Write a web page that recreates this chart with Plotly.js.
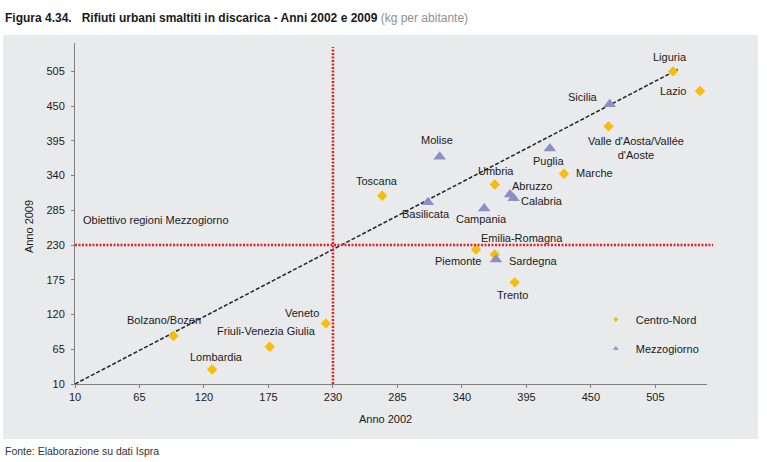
<!DOCTYPE html>
<html>
<head>
<meta charset="utf-8">
<script src="https://cdn.plot.ly/plotly-3.0.1.min.js"></script>
<style>html,body{margin:0;padding:0;background:#fff;}#chart{width:767px;height:462px;}</style>
</head>
<body>
<div id="chart"></div>
<script>
// ---- Data (kg per abitante) ----
const cnNames = ["Liguria","Lazio","Valle d'Aosta/Vallée<br>d'Aoste","Marche","Umbria","Toscana","Emilia-Romagna","Piemonte","Trento","Bolzano/Bozen","Lombardia","Friuli-Venezia Giulia","Veneto"];
const cnX2002 = [520, 543, 465, 427, 368, 272, 352, 368, 385, 94, 127, 176, 224];
const cnY2009 = [505, 474, 418, 343, 326, 308, 223, 215, 171, 86, 33, 69, 106];

const mzNames = ["Sicilia","Molise","Puglia","Abruzzo","Calabria","Basilicata","Campania","Sardegna"];
const mzX2002 = [466, 321, 415, 381, 384, 311, 359, 369];
const mzY2009 = [453, 370, 383, 310, 304, 298, 288, 207];

const trendX = [10, 524];
const trendY = [10, 508];
const targetValue = 230;

const tickValues = [10, 65, 120, 175, 230, 285, 340, 395, 450, 505];

// ---- Label offsets (pixels) ----
const cnLabelShift = [[-3,14],[-27,0],[27,-22],[31,1],[1,13],[-5,15],[46,11],[-37,-6],[-2,-13],[-9,16],[4,12],[-3,16],[-24,10]];
const mzLabelShift = [[-27,7],[-3,17],[-1,-13],[22,9],[28,-3],[-2,-12],[-3,-11],[38,-1]];

const YELLOW = '#f7bd0b';
const VIOLET = '#8b8fc6';
const FONT = 'Liberation Sans, Arial, sans-serif';

const traces = [
  {x: trendX, y: trendY, mode: 'lines', line: {color: '#222', width: 1.5, dash: '4px,2px'}, showlegend: false, hoverinfo: 'skip'},
  {x: cnX2002, y: cnY2009, mode: 'markers', name: 'Centro-Nord', marker: {symbol: 'diamond', size: 8, color: YELLOW}, showlegend: false},
  {x: mzX2002, y: mzY2009, mode: 'markers', name: 'Mezzogiorno', marker: {symbol: 'triangle-up', size: 11, color: VIOLET}, showlegend: false},
  {x: [null], y: [null], mode: 'markers', name: 'Centro-Nord', legendgroup: 'cn', marker: {symbol: 'diamond', size: 4, color: YELLOW}},
  {x: [null], y: [null], mode: 'markers', name: 'Mezzogiorno', legendgroup: 'mz', marker: {symbol: 'triangle-up', size: 5, color: VIOLET}}
];

const annotations = [];
function addLabels(names, xs, ys, shifts) {
  names.forEach((n, i) => {
    annotations.push({x: xs[i], y: ys[i], xref: 'x', yref: 'y', text: n, showarrow: false,
      xshift: shifts[i][0], yshift: shifts[i][1], align: 'center',
      font: {family: FONT, size: 11, color: '#1a1a1a'}});
  });
}
addLabels(cnNames, cnX2002, cnY2009, cnLabelShift);
addLabels(mzNames, mzX2002, mzY2009, mzLabelShift);

annotations.push(
  {xref: 'paper', yref: 'paper', x: 0.0095, y: 0.481, xanchor: 'left', yanchor: 'middle', showarrow: false,
   text: 'Obiettivo regioni Mezzogiorno', font: {family: FONT, size: 11, color: '#1a1a1a'}},
  {xref: 'paper', yref: 'paper', x: 0.492, y: -0.1026, xanchor: 'center', yanchor: 'middle', showarrow: false,
   text: 'Anno 2002', font: {family: FONT, size: 11, color: '#1a1a1a'}},
  {xref: 'paper', yref: 'paper', x: -0.0728, y: 0.463, xanchor: 'center', yanchor: 'middle', showarrow: false, textangle: -90,
   text: 'Anno 2009', font: {family: FONT, size: 11, color: '#1a1a1a'}},
  {xref: 'paper', yref: 'paper', x: -0.1139, y: -0.1965, xanchor: 'left', yanchor: 'middle', showarrow: false,
   text: 'Fonte: Elaborazione su dati Ispra', font: {family: FONT, size: 10.5, color: '#333'}}
);

const layout = {
  width: 767, height: 462,
  margin: {l: 75, r: 60, t: 43, b: 78},
  paper_bgcolor: '#ffffff',
  plot_bgcolor: 'rgba(0,0,0,0)',
  font: {family: FONT, size: 11, color: '#1a1a1a'},
  title: {
    text: '<b>Figura 4.34.&nbsp;&nbsp;&nbsp;Rifiuti urbani smaltiti in discarica - Anni 2002 e 2009</b> <span style="color:#8f8f8f">(kg per abitante)</span>',
    font: {family: 'Liberation Sans Narrow, Arial Narrow, Liberation Sans, sans-serif', size: 12, color: '#1a1a1a'},
    xref: 'container', yref: 'container', x: 0.0065, xanchor: 'left', y: 0.961, yanchor: 'middle'
  },
  xaxis: {
    range: [10, 549], tickvals: tickValues, ticktext: tickValues.map(String),
    showgrid: false, zeroline: false, showline: true, linecolor: '#808080', linewidth: 1,
    ticks: 'outside', ticklen: 3, tickcolor: '#808080', tickfont: {family: FONT, size: 11, color: '#1a1a1a'}
  },
  yaxis: {
    range: [10, 550], tickvals: tickValues, ticktext: tickValues.map(String),
    showgrid: false, zeroline: false, showline: true, linecolor: '#808080', linewidth: 1,
    ticks: 'outside', ticklen: 3, tickcolor: '#808080', tickfont: {family: FONT, size: 11, color: '#1a1a1a'},
    ticklabelstandoff: 4
  },
  shapes: [
    {type: 'rect', xref: 'paper', yref: 'paper', x0: -0.1139, x1: 1.0807, y0: -0.1613, y1: 1.0235,
     fillcolor: '#e9eaec', line: {width: 0}, layer: 'below'},
    {type: 'line', xref: 'x', yref: 'paper', x0: targetValue, x1: targetValue, y0: 0, y1: 0.988,
     line: {color: '#e8202a', width: 2.5, dash: '2px,1.5px'}},
    {type: 'line', xref: 'paper', yref: 'y', x0: 0, x1: 1.0095, y0: targetValue, y1: targetValue,
     line: {color: '#e8202a', width: 2.5, dash: '2px,1.5px'}}
  ],
  annotations: annotations,
  showlegend: true,
  legend: {x: 0.824, y: 0.232, xanchor: 'left', yanchor: 'top', bgcolor: 'rgba(0,0,0,0)',
           traceorder: 'grouped', tracegroupgap: 10, font: {family: FONT, size: 11, color: '#1a1a1a'}}
};

Plotly.newPlot('chart', traces, layout, {displayModeBar: false, staticPlot: true});
</script>
</body>
</html>
